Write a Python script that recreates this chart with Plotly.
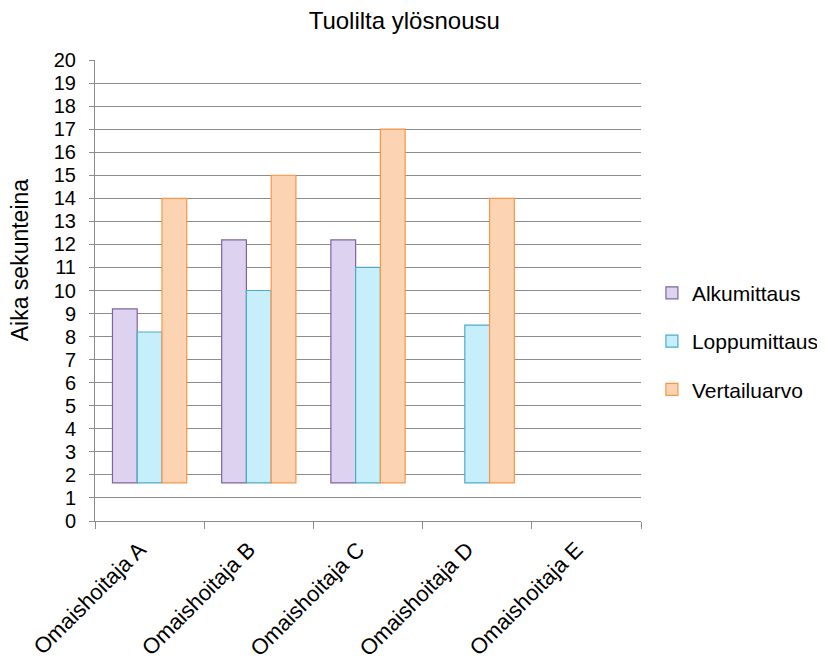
import plotly.graph_objects as go

categories = ["Omaishoitaja A", "Omaishoitaja B", "Omaishoitaja C", "Omaishoitaja D", "Omaishoitaja E"]
alkumittaus = [9.2, 12.2, 12.2, None, None]
loppumittaus = [8.2, 10.0, 11.0, 8.5, None]
vertailuarvo = [14, 15, 17, 14, None]
y_ticks = list(range(0, 21))

BAR_BASE = 1.65  # bars in the reference start slightly above zero

series = [
    ("Alkumittaus", alkumittaus, "#ddd2ef", "#8064a2"),
    ("Loppumittaus", loppumittaus, "#c6effb", "#4bacc6"),
    ("Vertailuarvo", vertailuarvo, "#fdd4b3", "#f79646"),
]

fig = go.Figure()
for name, vals, fill, line in series:
    fig.add_trace(go.Bar(
        x=categories,
        y=[(v - BAR_BASE) if v is not None else None for v in vals],
        base=BAR_BASE,
        name=name,
        legendgroup=name,
        marker=dict(color=fill, line=dict(color=line, width=1.2)),
    ))

font_family = "Liberation Sans, Arial, sans-serif"
W, H = 817, 653
L, T, PW, PH = 87, 52, 546, 461
fig.update_layout(
    width=W, height=H,
    margin=dict(l=L, r=W - L - PW, t=T, b=H - T - PH, autoexpand=False),
    paper_bgcolor="white", plot_bgcolor="white",
    font=dict(family=font_family, color="black", size=20),
    title=dict(text="Tuolilta ylösnousu", x=0.485, xanchor="center", y=0.981, yanchor="middle",
               font=dict(size=24, family=font_family, color="black")),
    barmode="group", bargap=0.32, bargroupgap=0,
    legend=dict(x=1.02, xanchor="left", y=0.39, yanchor="middle",
                font=dict(size=21), tracegroupgap=18, itemwidth=30,
                bgcolor="rgba(0,0,0,0)"),
    showlegend=True,
    annotations=[dict(text="Aika sekunteina", textangle=-90, xref="paper", yref="paper",
                      x=-0.137, y=0.566, xanchor="center", yanchor="middle", showarrow=False,
                      font=dict(size=23, family=font_family, color="black"))],
)
fig.update_yaxes(
    range=[0, 20], tickvals=y_ticks, showgrid=True, gridcolor="#8c8c8c", gridwidth=1,
    showline=True, linecolor="#8c8c8c", linewidth=1, ticks="outside", ticklen=5,
    tickcolor="#8c8c8c", tickfont=dict(size=20), zeroline=False, ticklabelstandoff=9,
    automargin=False,
)
fig.update_xaxes(
    showline=True, linecolor="#8c8c8c", linewidth=1, ticks="outside", ticklen=7,
    tickcolor="#8c8c8c", tickson="boundaries", tickangle=-45, tickfont=dict(size=22),
    showgrid=False, ticklabelshift=-10, ticklabelstandoff=6, automargin=False,
)

fig.write_html("out.html")
